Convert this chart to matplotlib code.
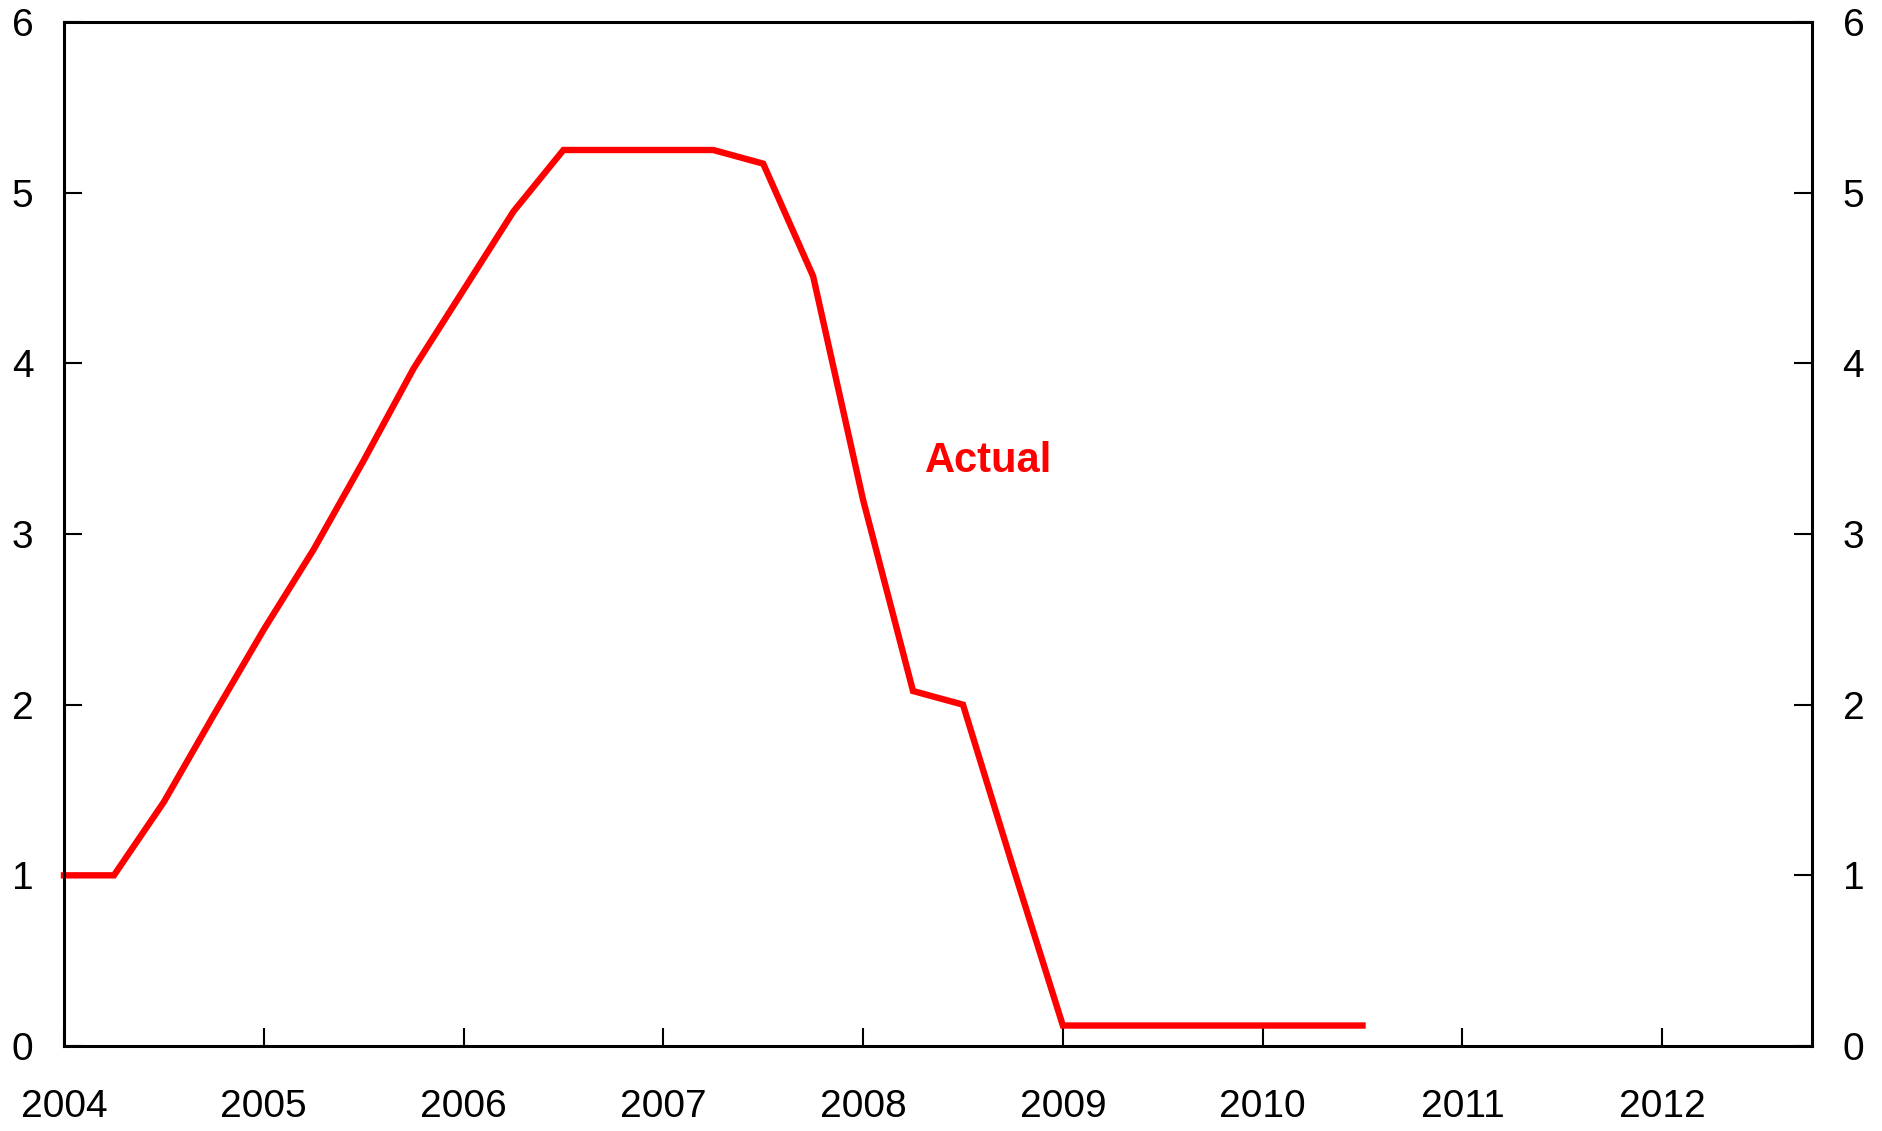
import numpy as np
import matplotlib.pyplot as plt
from matplotlib.ticker import MultipleLocator

plt.rcParams['font.family'] = ['Liberation Sans', 'DejaVu Sans']

# quarterly values
quarters = np.arange(2004.0, 2010.51, 0.25)
actualRate = [1.00, 1.00, 1.43, 1.94, 2.44, 2.91, 3.43, 3.97, 4.43, 4.89,
              5.25, 5.25, 5.25, 5.25, 5.17, 4.51, 3.20, 2.08, 2.00, 1.05,
              0.12, 0.12, 0.12, 0.12, 0.12, 0.12, 0.12]
yearTicks = list(range(2004, 2013))
yTicks = list(range(0, 7))

fig = plt.figure(figsize=(18.83, 11.31), dpi=100)
ax = fig.add_axes([64 / 1883, 1 - 1046 / 1131, (1812 - 64) / 1883, (1046 - 22) / 1131])

ax.plot(quarters, actualRate, color="#ff0000", linewidth=4.6, solid_joinstyle="miter", clip_on=False)
ax.text(2008.31, 3.43, "Actual", color="#ff0000", fontsize=30, fontweight="bold", ha="left", va="center")

ax.set_xlim(2004, 2012.75)
ax.set_ylim(0, 6)
ax.set_xticks(yearTicks)
ax.set_xticklabels([str(y) for y in yearTicks])
ax.xaxis.set_minor_locator(MultipleLocator(0.25))
ax.set_yticks(yTicks)

for side in ax.spines.values():
    side.set_linewidth(2.2)

ax.tick_params(axis="y", which="major", direction="in", length=13, width=1.5,
               left=True, right=True, labelleft=True, labelright=True, labelsize=28, pad=22)
ax.tick_params(axis="x", which="major", direction="in", length=13, width=1.5,
               labelsize=28, pad=31)
ax.tick_params(axis="x", which="minor", direction="inout", length=2, width=1.5)

fig.savefig("out.png", dpi=100)
